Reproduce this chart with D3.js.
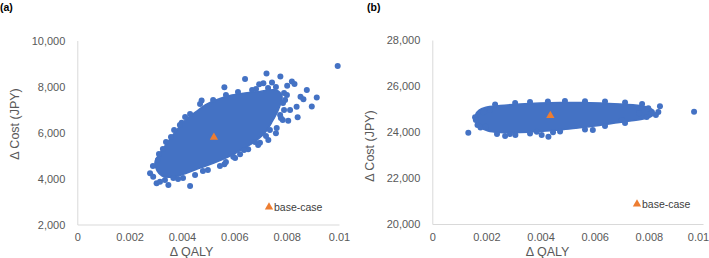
<!DOCTYPE html>
<html lang="en">
<head>
<meta charset="UTF-8">
<title>PSA scatter</title>
<script src="https://d3js.org/d3.v7.min.js"></script>
<style>
  body { margin: 0; background: #fff; }
  svg { font-family: "Liberation Sans", Arial, sans-serif; }
  .axis path { stroke: #d9d9d9; }
  .axis text { fill: #595959; font-size: 11px; }
</style>
</head>
<body>
<svg width="709" height="258"></svg>
<script>
// tick values and labels
const xTicks = [0, 0.002, 0.004, 0.006, 0.008, 0.01];
const xTickLabels = ["0", "0.002", "0.004", "0.006", "0.008", "0.01"];
const yTicksA = [2000, 4000, 6000, 8000, 10000];
const yTicksB = [20000, 22000, 24000, 26000, 28000];

// (a) dense part of the cloud, outline [dQALY, dCost]
const cloudA = [
  [0.00297, 4718], [0.00305, 4326], [0.00324, 4109], [0.00366, 4065], [0.00419, 4239],
  [0.00469, 4457], [0.00522, 4674], [0.00576, 4935], [0.00626, 5239], [0.00671, 5544],
  [0.00713, 5935], [0.00744, 6457], [0.00771, 7065], [0.00782, 7587], [0.00759, 7848],
  [0.00698, 7783], [0.00641, 7718], [0.00591, 7631], [0.00545, 7478], [0.00496, 7239],
  [0.00454, 6913], [0.00415, 6565], [0.00377, 6065], [0.00343, 5544], [0.00316, 5109]
];
// (a) single simulations around the edge
const pointsA = [
  [0.00641, 8326], [0.00723, 8565], [0.00776, 8435], [0.00695, 8096], [0.00711, 8139],
  [0.00744, 8174], [0.0082, 8218], [0.0083, 8109], [0.00802, 8035], [0.00877, 7848],
  [0.00915, 7522], [0.00896, 7131], [0.00853, 7557], [0.00864, 7444], [0.00838, 7122],
  [0.00842, 6661], [0.00806, 6513], [0.00785, 6544], [0.00813, 6978], [0.00762, 6196],
  [0.00759, 5965], [0.0073, 5674], [0.00562, 7965], [0.00475, 7392], [0.00399, 6426],
  [0.00278, 4226], [0.0029, 4078], [0.00303, 3791], [0.00316, 3861], [0.00348, 3717],
  [0.00431, 3674], [0.00367, 4022], [0.00698, 5557], [0.00653, 5270], [0.00622, 5052],
  [0.00562, 4617], [0.00596, 4948], [0.00995, 8892],
  [0.00431, 6805], [0.00392, 6326], [0.00358, 5804], [0.00327, 5283], [0.00308, 4804],
  [0.00519, 7413], [0.00614, 7761], [0.00668, 7848], [0.00729, 7935], [0.0079, 7718],
  [0.00786, 7283], [0.00775, 6761], [0.00736, 6109], [0.00385, 3978], [0.0045, 4152],
  [0.00499, 4370], [0.00545, 4544], [0.00603, 4891], [0.00691, 5457],
  [0.00794, 7413], [0.00801, 7631], [0.0079, 6978], [0.00778, 6631], [0.00721, 5848],
  [0.00679, 5587], [0.00637, 5239], [0.00469, 7239], [0.00412, 6674], [0.0037, 6109],
  [0.00339, 5587], [0.00312, 5065], [0.00289, 4544], [0.00568, 7631], [0.00683, 7892],
  [0.00759, 7979], [0.00335, 3935], [0.00404, 4022], [0.0048, 4326], [0.00568, 4718]
];
const baseA = [0.00522, 5790];

// (b)
const cloudB = [
  [0.00161, 24783], [0.00173, 24957], [0.00195, 25065], [0.0025, 25152], [0.00324, 25218],
  [0.00398, 25261], [0.00472, 25283], [0.00546, 25283], [0.0062, 25261], [0.00693, 25218],
  [0.00749, 25174], [0.00797, 25065], [0.00819, 24913], [0.00812, 24696], [0.00786, 24587],
  [0.0073, 24478], [0.00664, 24370], [0.00601, 24261], [0.00538, 24174], [0.00472, 24087],
  [0.00398, 24022], [0.00324, 23978], [0.0025, 23978], [0.00206, 24044], [0.00176, 24218],
  [0.00161, 24478]
];
const pointsB = [
  [0.00133, 23970], [0.00158, 24639], [0.00161, 24522], [0.00167, 24305], [0.00178, 24196],
  [0.00188, 24857], [0.00198, 24231], [0.00213, 24957], [0.00269, 23826], [0.00307, 23870],
  [0.00404, 23870], [0.00429, 23796], [0.00386, 24013], [0.00446, 23987], [0.00593, 24087],
  [0.007, 24522], [0.00764, 24813], [0.00798, 25031], [0.00841, 25118], [0.00835, 24870],
  [0.00826, 24739], [0.0081, 24813], [0.00792, 24652], [0.00967, 24883],
  [0.00232, 25196], [0.00306, 25261], [0.00361, 25305], [0.00427, 25326], [0.0049, 25348],
  [0.00564, 25335], [0.00638, 25326], [0.00712, 25283], [0.00775, 25218], [0.00287, 23913],
  [0.00361, 23935], [0.00472, 24022], [0.00564, 24109], [0.00638, 24261], [0.00712, 24392],
  [0.00239, 23913]
];
const baseB = [0.00436, 24718];

const blue = "#4472C4", orange = "#ED7D31";
const svg = d3.select("svg");

function panel(opt) {
  const x = d3.scaleLinear().domain([0, 0.01]).range([opt.left, opt.right]);
  const y = d3.scaleLinear().domain(opt.yDomain).range([opt.bottom, opt.top]);
  const g = svg.append("g");

  const gx = g.append("g")
    .attr("class", "axis")
    .attr("transform", `translate(0,${opt.bottom})`)
    .call(d3.axisBottom(x).tickValues(xTicks).tickFormat((d, i) => xTickLabels[i])
      .tickSize(0).tickPadding(9))
    .call(a => a.selectAll(".tick line").remove());
  // last label nudged so it fits like in the original
  gx.selectAll(".tick text").filter((d, i) => i === xTicks.length - 1)
    .attr("dx", opt.lastDx);

  g.append("g")
    .attr("class", "axis")
    .attr("transform", `translate(${opt.left},0)`)
    .call(d3.axisLeft(y).tickValues(opt.yTicks).tickFormat(d3.format(","))
      .tickSize(0).tickPadding(12))
    .call(a => a.selectAll(".tick line").remove());

  // dense cloud
  g.append("path")
    .datum(opt.cloud)
    .attr("d", d3.line().x(d => x(d[0])).y(d => y(d[1])).curve(d3.curveCatmullRomClosed))
    .attr("fill", blue)
    .attr("stroke", blue)
    .attr("stroke-width", 1.5);

  g.selectAll("circle.pt")
    .data(opt.points)
    .join("circle")
    .attr("class", "pt")
    .attr("cx", d => x(d[0]))
    .attr("cy", d => y(d[1]))
    .attr("r", 3)
    .attr("fill", blue);

  const tri = d3.symbol(d3.symbolTriangle).size(30);
  g.append("path")
    .attr("d", tri)
    .attr("transform", `translate(${x(opt.base[0])},${y(opt.base[1])})`)
    .attr("fill", orange);

  // legend
  g.append("path")
    .attr("d", tri)
    .attr("transform", `translate(${opt.legX},${opt.legY})`)
    .attr("fill", orange);
  g.append("text")
    .attr("x", opt.legX + 5)
    .attr("y", opt.legY)
    .attr("dy", "0.35em")
    .attr("font-size", "10.5px")
    .attr("fill", "#404040")
    .text("base-case");

  // axis titles
  g.append("text")
    .attr("x", (opt.left + opt.right) / 2 - opt.xTitleShift)
    .attr("y", 256)
    .attr("text-anchor", "middle")
    .attr("font-size", "12.5px")
    .attr("fill", "#595959")
    .text("Δ QALY");
  g.append("text")
    .attr("transform", `translate(${opt.yTitleX},${opt.yTitleY}) rotate(-90)`)
    .attr("text-anchor", "middle")
    .attr("dy", "0.35em")
    .attr("font-size", "12.5px")
    .attr("fill", "#595959")
    .text("Δ Cost (JPY)");

  g.append("text")
    .attr("x", opt.tagX)
    .attr("y", 11)
    .attr("font-size", "10.5px")
    .attr("font-weight", "bold")
    .attr("fill", "#000")
    .text(opt.tag);
}

panel({
  left: 77.3, right: 339, top: 40.5, bottom: 224.5,
  yDomain: [2000, 10000], yTicks: yTicksA,
  cloud: cloudA, points: pointsA, base: baseA, lastDx: 0,
  legX: 269, legY: 207, xTitleShift: 16.5, yTitleX: 15, yTitleY: 124,
  tag: "(a)", tagX: 0
});

panel({
  left: 432.3, right: 703, top: 40, bottom: 224,
  yDomain: [20000, 28000], yTicks: yTicksB,
  cloud: cloudB, points: pointsB, base: baseB, lastDx: -5,
  legX: 637, legY: 204, xTitleShift: 20, yTitleX: 370, yTitleY: 146,
  tag: "(b)", tagX: 367
});
</script>
</body>
</html>
